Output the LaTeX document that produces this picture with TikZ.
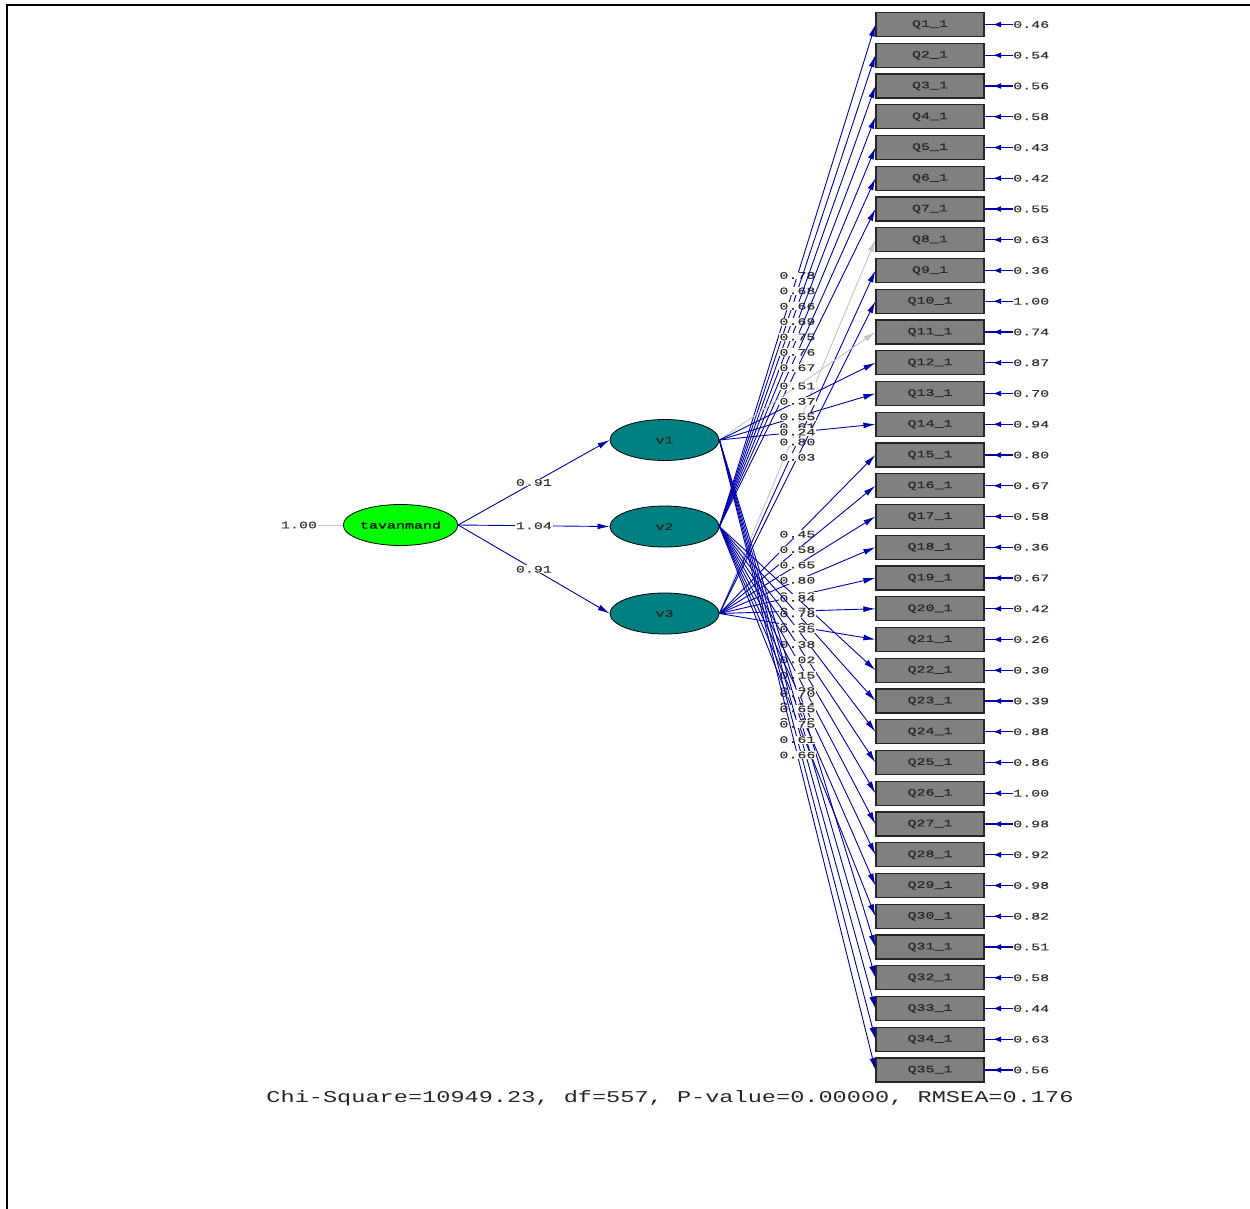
\documentclass[tikz,border=0pt]{standalone}
\usepackage{fontspec}
\usetikzlibrary{arrows.meta,decorations.markings,shapes.geometric}
\newfontfamily\lisfont[FakeStretch=1.5,FakeBold=0.6]{Liberation Mono}
\newfontfamily\chifont[FakeStretch=1.43]{Liberation Mono}
\definecolor{lblue}{RGB}{0,0,170}
\definecolor{lgray}{RGB}{195,195,195}
\definecolor{boxgray}{RGB}{128,128,128}
\definecolor{facteal}{RGB}{0,128,128}
\definecolor{facgreen}{RGB}{0,255,0}
\begin{document}
\begin{tikzpicture}[x=1pt,y=-1pt,
  item/.style={draw=black!85,line width=1.2pt,fill=boxgray,minimum width=108pt,minimum height=24pt,inner sep=0pt,font=\lisfont\fontsize{10}{10}\selectfont,text=black!85},
  fac/.style={ellipse,draw=black,line width=0.8pt,fill=facteal,minimum width=109pt,minimum height=41pt,inner sep=0pt,font=\lisfont\fontsize{10}{10}\selectfont,text=black!85},
  lbl/.style={fill=white,inner sep=0.6pt,font=\lisfont\fontsize{10}{10}\selectfont,text=black!80},
  elbl/.style={inner sep=0pt,anchor=west,font=\lisfont\fontsize{10}{10}\selectfont,text=black!80},
  ld/.style={line width=0.9pt,-{Latex[length=12pt,width=6pt]}},
  err/.style={draw=lblue,line width=1.1pt,postaction={decorate},decoration={markings,mark=at position 0.7 with {\arrow{Latex[length=8pt,width=6pt]}}}}
]
\useasboundingbox (0,0) rectangle (1250,1209);
\draw[line width=2pt] (7,1209) -- (7,5) -- (1250,5);

% latent variables
\node[fac,fill=facgreen,text=black] (tav) at (400.5,525) {tavanmand};
\node[fac] (v1) at (664.5,440) {v1};
\node[fac] (v2) at (664.5,526.5) {v2};
\node[fac] (v3) at (664.5,613.5) {v3};
\node[elbl,anchor=center] (tvar) at (299,525) {1.00};
\draw[lgray,line width=1pt] (tvar.east) ++(2,0) coordinate (tvs) (tvs) -- (tav.west);

\draw[ld,draw=lblue] (tav.east) -- node[lbl] {0.91} (v1.west);
\draw[ld,draw=lblue] (tav.east) -- node[lbl] {1.04} (v2.west);
\draw[ld,draw=lblue] (tav.east) -- node[lbl] {0.91} (v3.west);

% observed variables with error terms
\foreach \k/\e in {1/0.46,2/0.54,3/0.56,4/0.58,5/0.43,6/0.42,7/0.55,8/0.63,9/0.36,10/1.00,
  11/0.74,12/0.87,13/0.70,14/0.94,15/0.80,16/0.67,17/0.58,18/0.36,19/0.67,20/0.42,
  21/0.26,22/0.30,23/0.39,24/0.88,25/0.86,26/1.00,27/0.98,28/0.92,29/0.98,30/0.82,
  31/0.51,32/0.58,33/0.44,34/0.63,35/0.56}{
  \node[item] (Q\k) at (930,{24.5+(\k-1)*30.75}) {Q\k\_1};
  \node[elbl] (e\k) at (1013,{24.5+(\k-1)*30.75}) {\e};
  \draw[err] (e\k.west) -- (Q\k.east);
}

% loadings
\foreach \k/\f/\l/\c in {1/v2/0.78/lblue,2/v2/0.68/lblue,3/v2/0.66/lblue,4/v2/0.69/lblue,
  5/v2/0.75/lblue,6/v2/0.76/lblue,7/v2/0.67/lblue,8/v3/0.61/lgray,9/v3/0.80/lblue,
  10/v3/0.03/lblue,11/v1/0.51/lgray,12/v1/0.37/lblue,13/v1/0.55/lblue,14/v1/0.24/lblue,
  15/v3/0.45/lblue,16/v3/0.58/lblue,17/v3/0.65/lblue,18/v3/0.80/lblue,19/v3/0.58/lblue,
  20/v3/0.76/lblue,21/v3/0.86/lblue,22/v2/0.84/lblue,23/v2/0.78/lblue,24/v2/0.35/lblue,
  25/v2/0.38/lblue,26/v2/0.02/lblue,27/v2/0.15/lblue,28/v2/0.28/lblue,29/v2/0.14/lblue,
  30/v2/0.42/lblue,31/v1/0.70/lblue,32/v1/0.65/lblue,33/v1/0.75/lblue,34/v1/0.61/lblue,
  35/v1/0.66/lblue}{
  \draw[ld,draw=\c] (\f.east) -- node[lbl] {\l} (Q\k.west);
}

\node[font=\chifont\fontsize{16.5}{16.5}\selectfont,text=black!85,inner sep=0pt] (fit) at (670,1098)
  {Chi-Square=10949.23, df=557, P-value=0.00000, RMSEA=0.176};
\end{tikzpicture}
\end{document}
